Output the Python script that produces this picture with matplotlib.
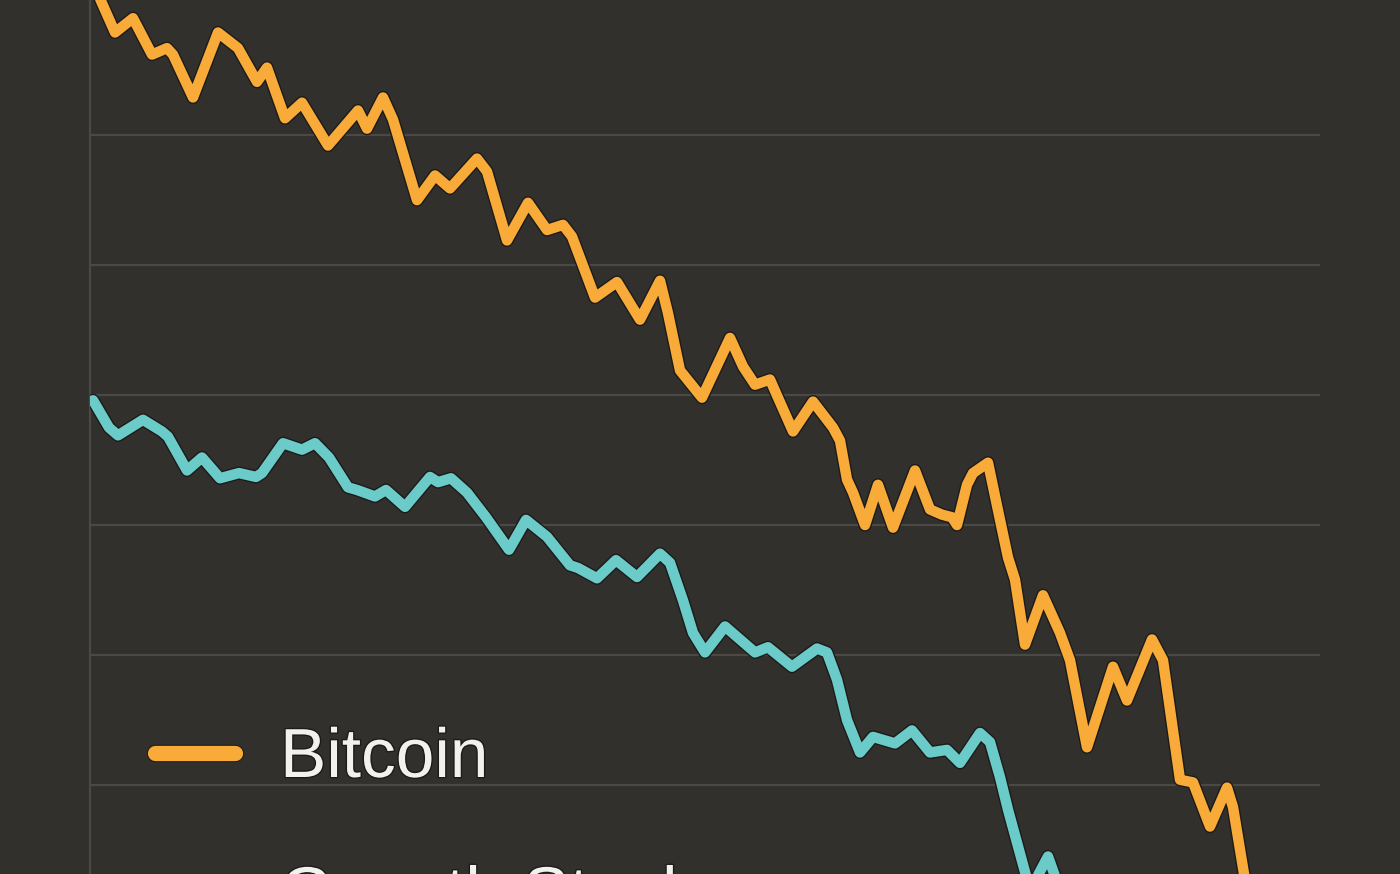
import matplotlib
matplotlib.use("Agg")
import matplotlib.pyplot as plt
import matplotlib.patheffects as pe
from matplotlib.lines import Line2D

# ---- data ----
btc_x = [1.0, 2.5, 4.3, 6.2, 7.7, 8.3, 10.3, 12.8, 14.8, 16.7, 17.7, 19.5, 21.2, 23.8, 26.8,
         27.7, 29.3, 30.3, 32.7, 34.5, 36.0, 38.7, 39.7, 41.7, 43.8, 45.7, 47.3, 48.2, 50.5,
         52.7, 55.0, 57.0, 57.8, 59.0, 61.2, 64.0, 65.3, 66.5, 68.0, 68.8, 70.3, 72.3, 74.3,
         75.0, 75.7, 76.3, 77.5, 78.8, 80.3, 82.5, 84.0, 85.2, 86.2, 86.7, 87.7, 88.3, 89.8,
         91.0, 91.8, 92.5, 93.5, 95.3, 97.0, 98.0, 99.7, 102.3, 103.7, 106.2, 107.3, 109.0,
         110.3, 112.0, 113.7, 114.3, 115.5]
btc_y = [70.5, 67.9, 69.0, 66.2, 66.7, 66.2, 62.9, 67.9, 66.7, 64.1,
         65.2, 61.3, 62.5, 59.2, 61.9, 60.5, 62.9, 61.2, 55.0, 56.9,
         55.9, 58.2, 57.2, 51.9, 54.8, 52.7, 53.1, 52.2, 47.5, 48.7,
         45.8, 48.8, 46.3, 41.9, 39.8, 44.4, 42.2, 40.8, 41.2, 39.8,
         37.2, 39.5, 37.5, 36.5, 33.5, 32.5, 30.0, 33.1, 29.8, 34.2,
         31.2, 30.8, 30.6, 30.0, 33.1, 34.0, 34.8, 30.4, 27.5, 25.8,
         20.8, 24.6, 21.7, 19.6, 12.9, 19.1, 16.5, 21.2, 19.6, 10.4,
         10.2, 6.8, 9.8, 8.3, 2.7]

growth_x = [0.3, 1.9, 2.8, 5.3, 7.2, 7.8, 9.7, 11.2, 13.0, 14.9, 16.6, 17.2, 19.3, 21.2, 22.5,
            23.9, 25.8, 26.7, 28.5, 29.6, 31.5, 34.0, 34.8, 36.1, 37.7, 39.6, 41.9, 43.6, 45.7,
            48.0, 48.8, 50.7, 52.6, 54.7, 57.0, 58.0, 59.3, 60.3, 61.5, 63.5, 65.0, 66.5, 67.8,
            70.2, 72.7, 73.7, 74.7, 75.7, 77.0, 78.3, 80.5, 82.2, 84.0, 85.7, 87.0, 89.0, 90.0,
            91.0, 91.8, 94.0, 95.8, 97.0]
growth_y = [39.6, 37.5, 36.9, 38.1, 37.2, 36.8, 34.2, 35.2, 33.6, 34.0,
            33.7, 34.0, 36.3, 35.8, 36.3, 35.2, 32.9, 32.7, 32.2, 32.7,
            31.4, 33.7, 33.3, 33.6, 32.5, 30.6, 28.1, 30.4, 29.1, 26.9,
            26.7, 25.9, 27.3, 26.0, 27.8, 27.1, 24.2, 21.7, 20.2, 22.2,
            21.2, 20.2, 20.6, 19.1, 20.5, 20.2, 18.1, 15.0, 12.5, 13.7,
            13.2, 14.2, 12.5, 12.7, 11.7, 14.0, 13.3, 10.6, 8.1, 1.9,
            4.5, 1.9]

series_labels = ["Bitcoin", "Growth Stocks"]
grid_values = [10, 20, 30, 40, 50, 60]

# ---- style ----
BG = "#32302d"
GRID = "#4b4946"
ORANGE = "#f8ab38"
TEAL = "#6bcbc8"
TEXT = "#f2f1ee"
OUTLINE = "#1d1b19"

fig = plt.figure(figsize=(14, 8.74), dpi=100, facecolor=BG)
ax = fig.add_axes([90 / 1400, 0, 1230 / 1400, 1])
ax.set_facecolor(BG)

fx = [pe.Stroke(linewidth=9.5, foreground=OUTLINE), pe.Normal()]
ax.plot(btc_x, btc_y, color=ORANGE, lw=7.5, solid_joinstyle="round",
        solid_capstyle="round", label=series_labels[0], path_effects=fx, zorder=3)
ax.plot(growth_x, growth_y, color=TEAL, lw=7.5, solid_joinstyle="round",
        solid_capstyle="round", label=series_labels[1], path_effects=fx, zorder=3)

ax.set_xlim(0, 123)
ax.set_ylim(3.15, 70.4)
ax.set_yticks(grid_values)
ax.set_xticks([])
ax.tick_params(axis="y", length=0, labelleft=False)
ax.grid(axis="y", color=GRID, lw=1.6)
ax.set_axisbelow(True)
for s in ["top", "right", "bottom"]:
    ax.spines[s].set_visible(False)
ax.spines["left"].set_color(GRID)
ax.spines["left"].set_linewidth(1.6)

# legend handles (thicker lines)
hfx = [pe.Stroke(linewidth=12.5, foreground=OUTLINE), pe.Normal()]
h1 = Line2D([], [], color=ORANGE, lw=11, solid_capstyle="round", path_effects=hfx)
h2 = Line2D([], [], color=TEAL, lw=11, solid_capstyle="round", path_effects=hfx)
leg = fig.legend([h1, h2], series_labels, loc="upper left",
                 bbox_to_anchor=(155 / 1400, 1 - 727 / 874),
                 frameon=False, handlelength=1.15, handletextpad=0.65,
                 labelspacing=1.07, borderaxespad=0, borderpad=0,
                 prop={"family": "Liberation Sans", "size": 50})
for t in leg.get_texts():
    t.set_color(TEXT)
    t.set_path_effects([pe.Stroke(linewidth=2, foreground=OUTLINE), pe.Normal()])

fig.savefig("out.png", dpi=100, facecolor=BG)
